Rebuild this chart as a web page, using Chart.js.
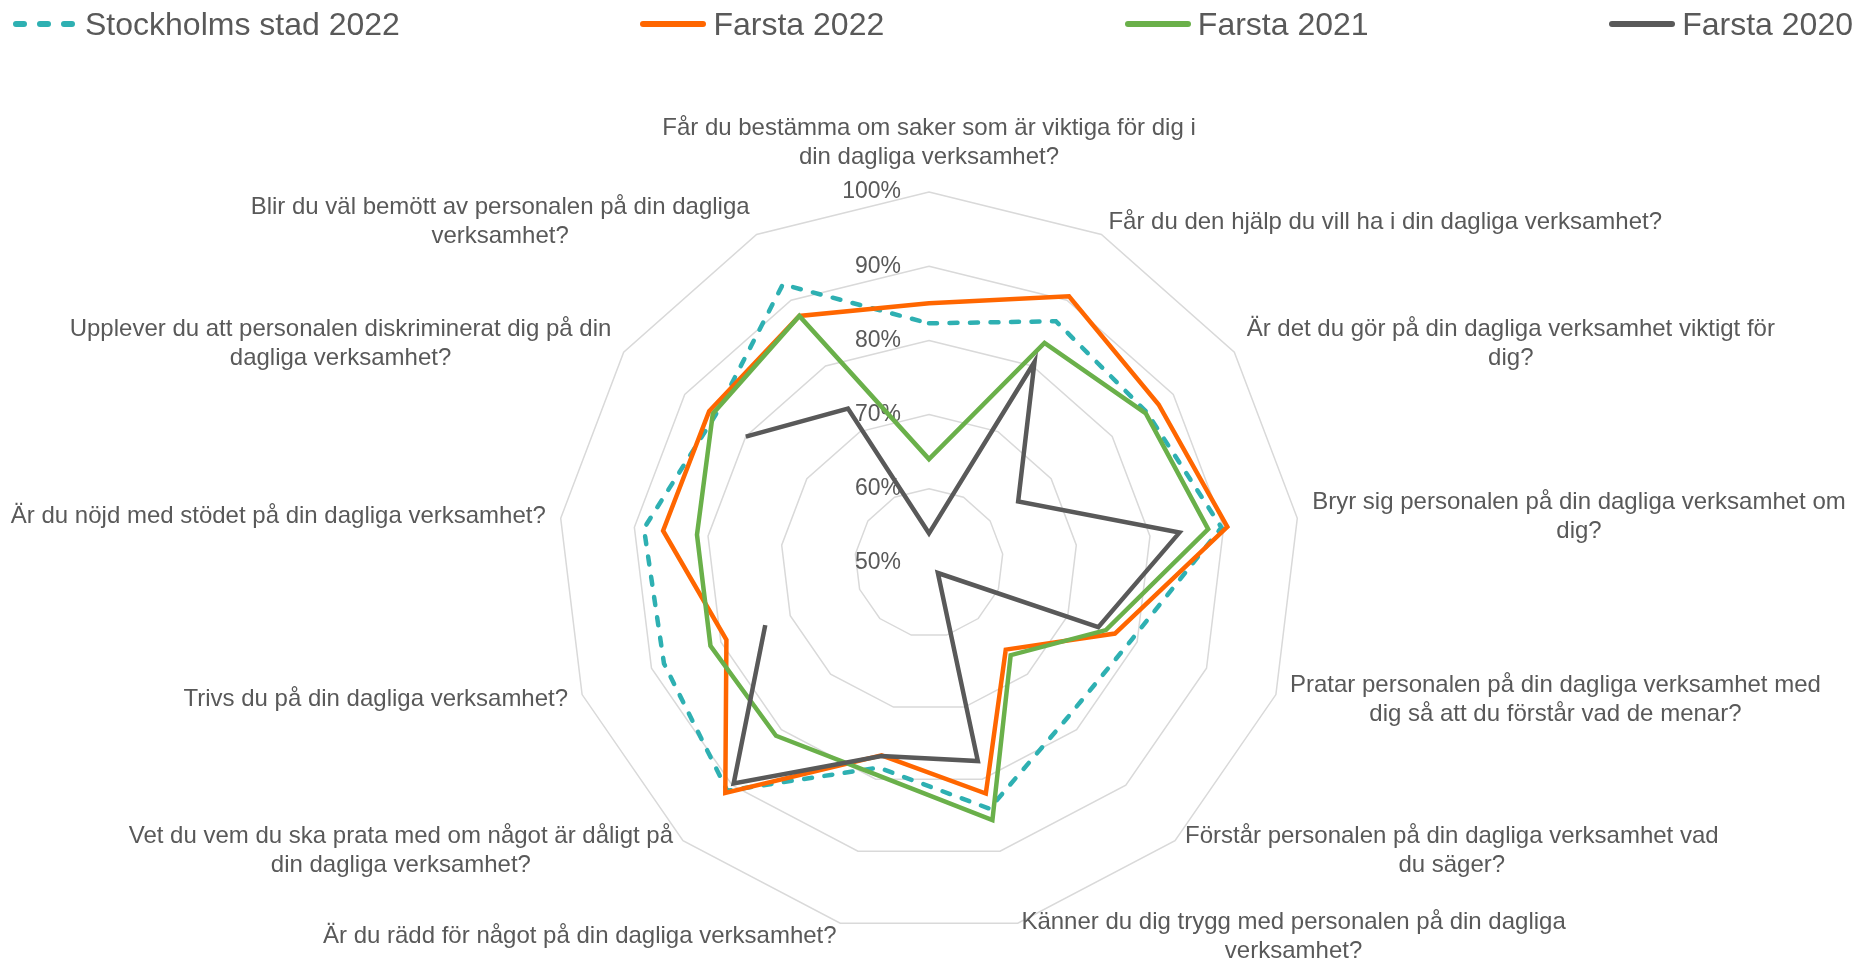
<!DOCTYPE html>
<html>
<head>
<meta charset="utf-8">
<script src="https://cdn.jsdelivr.net/npm/chart.js@4.4.1/dist/chart.umd.min.js"></script>
<style>
  body { margin: 0; background: #fff; }
  #wrap { position: relative; width: 1857px; height: 960px; }
  #legend {
    position: absolute; left: 12px; right: 4px; top: 7px;
    display: flex; justify-content: space-between;
    font: 32px "Liberation Sans", Arial, sans-serif; color: #595959; line-height: 34px;
  }
  .item { display: flex; align-items: center; white-space: nowrap; }
  .item svg { margin-right: 7px; }
</style>
</head>
<body>
<div id="wrap">
  <canvas id="chart" width="1857" height="960"></canvas>
  <div id="legend"></div>
</div>
<script>
// questions, clockwise from the top
const categories = [
    ["Får du bestämma om saker som är viktiga för dig i", "din dagliga verksamhet?"],
    ["Får du den hjälp du vill ha i din dagliga verksamhet?"],
    ["Är det du gör på din dagliga verksamhet viktigt för", "dig?"],
    ["Bryr sig personalen på din dagliga verksamhet om", "dig?"],
    ["Pratar personalen på din dagliga verksamhet med", "dig så att du förstår vad de menar?"],
    ["Förstår personalen på din dagliga verksamhet vad", "du säger?"],
    ["Känner du dig trygg med personalen på din dagliga", "verksamhet?"],
    ["Är du rädd för något på din dagliga verksamhet?"],
    ["Vet du vem du ska prata med om något är dåligt på", "din dagliga verksamhet?"],
    ["Trivs du på din dagliga verksamhet?"],
    ["Är du nöjd med stödet på din dagliga verksamhet?"],
    ["Upplever du att personalen diskriminerat dig på din", "dagliga verksamhet?"],
    ["Blir du väl bemött av personalen på din dagliga", "verksamhet?"]
];

const seriesNames = ["Stockholms stad 2022", "Farsta 2022", "Farsta 2021", "Farsta 2020"];

const stockholm2022 = [82.3, 86.8, 85.7, 89.7, 79.2, 78.0, 84.1, 78.4, 91.0, 88.2, 88.7, 85.0, 92.4];
const farsta2022 = [85.0, 90.6, 87.6, 90.5, 76.8, 65.6, 82.0, 76.7, 91.4, 79.2, 86.1, 86.0, 87.6];
const farsta2021 = [64.0, 83.5, 85.5, 87.9, 75.5, 66.6, 85.7, 79.4, 81.1, 81.5, 81.5, 85.4, 87.6];
const farsta2020 = [54.0, 80.6, 64.6, 84.0, 74.4, 51.8, 77.5, 76.8, 89.7, 73.6, null, 80.0, 73.5];

const tickValues = [50, 60, 70, 80, 90, 100];

const colors = ['#2eb0b2', '#ff6600', '#6ab04a', '#595959'];
const textColor = '#595959';
const labelFont = '24px "Liberation Sans", Arial, sans-serif';
const tickFont = '23px "Liberation Sans", Arial, sans-serif';

const allSeries = [stockholm2022, farsta2022, farsta2021, farsta2020];

const datasets = allSeries.map(function (values, i) {
    return {
        label: seriesNames[i],
        data: values,
        borderColor: colors[i],
        backgroundColor: colors[i],
        borderWidth: 4.5,
        borderDash: i === 0 ? [8, 12.5] : [],
        borderCapStyle: i === 0 ? 'round' : 'butt',
        borderJoinStyle: 'miter',
        pointRadius: 0,
        fill: false,
        spanGaps: false,
        order: allSeries.length - i
    };
});

// tick labels sit left of the top axis, drawn under the lines
const tickLabelPlugin = {
    id: 'tickLabels',
    beforeDatasetsDraw(chart) {
        const scale = chart.scales.r;
        const ctx = chart.ctx;
        ctx.save();
        ctx.font = tickFont;
        ctx.fillStyle = textColor;
        ctx.textAlign = 'right';
        ctx.textBaseline = 'middle';
        tickValues.forEach(function (v) {
            const y = scale.yCenter - scale.getDistanceFromCenterForValue(v);
            ctx.fillText(v + '%', scale.xCenter - 28, y);
        });
        ctx.restore();
    }
};

// question labels, lines centred in their box like Excel does
const pointLabelPlugin = {
    id: 'questionLabels',
    afterDraw(chart) {
        const scale = chart.scales.r;
        const ctx = chart.ctx;
        const lh = 29;
        ctx.save();
        ctx.font = labelFont;
        ctx.fillStyle = textColor;
        ctx.textAlign = 'center';
        ctx.textBaseline = 'middle';
        categories.forEach(function (lines, i) {
            const angle = scale.getIndexAngle(i);
            const s = Math.sin(angle), c = Math.cos(angle);
            const p = scale.getPointPosition(i, scale.drawingArea);
            const w = Math.max.apply(null, lines.map(function (t) { return ctx.measureText(t).width; }));
            const h = lines.length * lh;
            let left, top;
            if (Math.abs(s) < 0.01) {
                left = p.x - w / 2;
                top = p.y - 20 - h;
            } else {
                const gap = 15 * Math.abs(s);
                left = s > 0 ? p.x + gap : p.x - gap - w;
                top = p.y - c * 14 - h / 2;
            }
            lines.forEach(function (t, j) {
                ctx.fillText(t, left + w / 2, top + lh * (j + 0.5));
            });
        });
        ctx.restore();
    }
};

const config = {
    type: 'radar',
    data: {
        labels: categories,
        datasets: datasets
    },
    options: {
        responsive: false,
        animation: false,
        devicePixelRatio: 1,
        layout: {
            padding: { left: 558, right: 557, top: 192, bottom: 26 }
        },
        plugins: {
            legend: { display: false },
            tooltip: { enabled: false }
        },
        scales: {
            r: {
                min: 50,
                max: 100,
                ticks: { display: false, stepSize: 10 },
                grid: { color: '#d9d9d9', lineWidth: 1.5, circular: false },
                angleLines: { display: false },
                pointLabels: { display: false }
            }
        }
    },
    plugins: [tickLabelPlugin, pointLabelPlugin]
};

const myChart = new Chart(document.getElementById('chart'), config);

// legend spread across the top, as in the original
const legend = document.getElementById('legend');
seriesNames.forEach(function (name, i) {
    const item = document.createElement('div');
    item.className = 'item';
    const dash = i === 0 ? ' stroke-dasharray="8 16"' : '';
    item.innerHTML =
        '<svg width="66" height="12"><line x1="' + (i === 0 ? 4 : 3) + '" y1="6" x2="63" y2="6" stroke="' + colors[i] +
        '" stroke-width="6" stroke-linecap="round"' + dash + '/></svg><span>' + name + '</span>';
    legend.appendChild(item);
});
</script>
</body>
</html>
